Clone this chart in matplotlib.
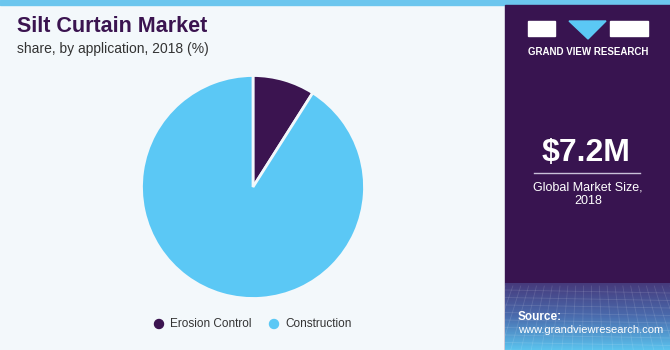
import matplotlib
matplotlib.use("Agg")
import matplotlib.pyplot as plt
import numpy as np
from matplotlib.patches import Rectangle, Polygon, Ellipse
from matplotlib.colors import LinearSegmentedColormap

categories = ["Erosion Control", "Construction"]
shares = [9.0, 91.0]
colors = ["#3b1450", "#5bc8f5"]
title = "Silt Curtain Market"
subtitle = "share, by application, 2018 (%)"
market_value = "$7.2M"
market_label = "Global Market Size,\n2018"

W, H = 670, 350
plt.rcParams['font.family'] = ['Liberation Sans', 'DejaVu Sans']
fig = plt.figure(figsize=(W/100, H/100), dpi=100)
fig.patch.set_facecolor("#f3f8fb")

def fx(x): return x / W
def fy(y): return 1 - y / H

# background panels as an axes underlay
bg = fig.add_axes([0, 0, 1, 1], zorder=-10)
bg.set_xlim(0, W); bg.set_ylim(H, 0); bg.axis("off")
bg.add_patch(Rectangle((0, 0), W, 5, color="#6cc6ee", zorder=0))
bg.add_patch(Rectangle((505, 5), W - 505, H, color="#381450", zorder=0))
g = np.linspace(0, 1, 100).reshape(-1, 1)
cmap = LinearSegmentedColormap.from_list("g", ["#463a7c", "#4a6cae", "#5bc3ee"])
bg.imshow(g, aspect="auto", cmap=cmap, extent=[505, W, H, 283], origin="upper", zorder=1)
# faint grid texture
for yy in np.linspace(290, 350, 9):
    bg.plot([505, W], [yy, yy + 3], color="white", alpha=0.12, lw=0.6, zorder=2)
for xx in np.linspace(505, W, 22):
    bg.plot([xx, xx + (xx - 588) * 0.3], [286, H], color="white", alpha=0.12, lw=0.6, zorder=2)
bg.set_xlim(0, W); bg.set_ylim(H, 0)

# logo
bg.add_patch(Rectangle((528, 21), 27, 15, color="white", zorder=3))
bg.add_patch(Rectangle((610, 21), 38, 15, color="white", zorder=3))
bg.add_patch(Polygon([(569, 21), (606, 21), (588, 39)], closed=True, color="#5bc8f5", zorder=3))
fig.text(fx(588), fy(52), "GRAND VIEW RESEARCH", color="white", fontsize=7, fontweight="bold",
         ha="center", va="center")

fig.text(fx(586), fy(153), market_value, color="white", fontsize=23, fontweight="bold", ha="center", va="center")
bg.plot([534, 640], [173, 173], color="#c8c0d8", lw=1, zorder=3)
fig.text(fx(588), fy(194), market_label, color="white", fontsize=9, ha="center", va="center",
         linespacing=1.2)
fig.text(fx(518), fy(317), "Source:", color="white", fontsize=8.5, fontweight="bold", ha="left", va="center")
fig.text(fx(518), fy(330), "www.grandviewresearch.com", color="white", fontsize=8, ha="left", va="center")

# titles
fig.text(fx(17), fy(27), title, color="#3b1450", fontsize=15.5, fontweight="bold", ha="left", va="center")
fig.text(fx(17), fy(49), subtitle, color="#333333", fontsize=10, ha="left", va="center")

# pie
cx, cy, r = 253, 187, 111.5
ax = fig.add_axes([fx(cx - r), fy(cy + r), 2*r/W, 2*r/H])
ax.pie(shares, colors=colors, startangle=90, counterclock=False,
       wedgeprops=dict(edgecolor="#f3f8fb", linewidth=2))
ax.set_xlim(-1, 1); ax.set_ylim(-1, 1)
ax.set_aspect("equal")
ax.axis("off")

# legend
leg_x = [159, 274]
for x, c, lab in zip(leg_x, colors, categories):
    bg.add_patch(Ellipse((x, 324), 9, 9, color=c, zorder=3))
    fig.text(fx(x + 11), fy(324), lab, color="#333333", fontsize=8.5, ha="left", va="center")

fig.savefig("out.png", dpi=100, facecolor=fig.get_facecolor())
